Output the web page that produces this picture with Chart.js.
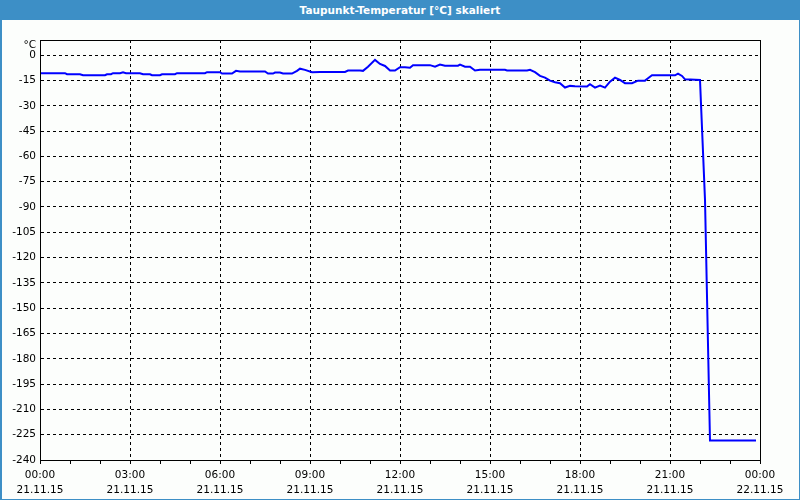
<!DOCTYPE html>
<html>
<head>
<meta charset="utf-8">
<script src="https://cdn.jsdelivr.net/npm/chart.js@4/dist/chart.umd.min.js"></script>
<style>
    body { margin: 0; }
    #frame {
        position: relative;
        width: 800px;
        height: 500px;
        background: #fcfefc;
        overflow: hidden;
    }
    #titleBar {
        position: absolute;
        left: 0; top: 0;
        width: 800px; height: 20px;
        background: #3d8fc6;
        color: #fff;
        font: bold 10.5px "DejaVu Sans", sans-serif;
        line-height: 20px;
        text-align: center;
    }
    /* blue window border left / right / bottom */
    #borderL { position: absolute; left: 0; top: 0; width: 2px; height: 500px; background: #3d8fc6; }
    #borderR { position: absolute; right: 0; top: 0; width: 1px; height: 500px; background: #3d8fc6; }
    #borderB { position: absolute; left: 0; bottom: 0; width: 800px; height: 1px; background: #3d8fc6; }
    #chartBox { position: absolute; left: 0; top: 0; width: 800px; height: 500px; }
</style>
</head>
<body>
<div id="frame">
    <div id="titleBar">Taupunkt-Temperatur [°C] skaliert</div>
    <div id="borderL"></div>
    <div id="borderR"></div>
    <div id="borderB"></div>
    <div id="chartBox"><canvas id="Chart"></canvas></div>
</div>

<script>
// time of day in hours (00:00 21.11.15 = 0)
const hours = [
    0.000, 0.833, 0.900, 1.333, 1.433, 2.167, 2.233, 2.367, 2.433, 2.667,
    2.767, 2.867, 3.333, 3.433, 3.667, 3.733, 4.000, 4.067, 4.500, 4.567,
    5.500, 5.567, 6.000, 6.067, 6.400, 6.533, 6.667, 7.500, 7.600, 7.767,
    7.833, 8.000, 8.100, 8.400, 8.567, 8.667, 8.833, 9.067, 9.333, 10.167,
    10.267, 10.667, 10.767, 10.933, 11.167, 11.333, 11.500, 11.667, 11.833, 12.000,
    12.167, 12.333, 12.433, 13.000, 13.167, 13.333, 13.500, 13.933, 14.000, 14.167,
    14.333, 14.500, 14.667, 15.500, 15.567, 16.233, 16.333, 16.500, 16.667, 16.833,
    17.000, 17.167, 17.333, 17.500, 17.667, 17.833, 18.233, 18.333, 18.500, 18.667,
    18.833, 19.000, 19.167, 19.333, 19.500, 19.733, 19.933, 20.167, 20.267, 20.400,
    21.167, 21.267, 21.400, 21.500, 22.000, 22.033, 22.167, 22.333, 23.867
];

// dew point in °C
const dewPoint = [
    -10.7, -10.7, -11.3, -11.3, -11.9, -11.9, -11.3, -11.3, -10.7, -10.7,
    -10.1, -10.7, -10.7, -11.3, -11.3, -11.9, -11.9, -11.3, -11.3, -10.7,
    -10.7, -10.1, -10.1, -10.9, -10.9, -9.3, -9.7, -9.7, -10.9, -10.9,
    -10.3, -10.3, -10.9, -10.9, -9.3, -8.0, -8.7, -10.1, -9.9, -9.9,
    -9.1, -9.1, -9.3, -6.8, -2.8, -5.2, -6.4, -9.1, -9.1, -7.1,
    -7.1, -7.4, -5.9, -5.9, -6.8, -5.6, -6.2, -6.2, -5.6, -6.8,
    -6.8, -9.1, -8.7, -8.7, -9.1, -9.1, -8.7, -10.1, -12.3, -13.3,
    -15.1, -16.0, -16.6, -19.2, -18.2, -18.4, -18.6, -17.2, -19.2, -18.0,
    -19.2, -15.7, -13.3, -14.7, -16.6, -16.6, -15.1, -15.1, -13.7, -11.9,
    -11.9, -10.9, -12.3, -14.3, -14.7, -14.7, -85.9, -228.5, -228.5
];

// axis ticks
const yTicks = [0, -15, -30, -45, -60, -75, -90, -105, -120, -135, -150, -165, -180, -195, -210, -225, -240];
const xTimeLabels = ['00:00', '03:00', '06:00', '09:00', '12:00', '15:00', '18:00', '21:00', '00:00'];
const xDateLabels = ['21.11.15', '21.11.15', '21.11.15', '21.11.15', '21.11.15', '21.11.15', '21.11.15', '21.11.15', '22.11.15'];

const tickFont = { family: '"DejaVu Sans", sans-serif', size: 10.5, lineHeight: 15 / 10.5 };

// black frame round the plot + the unit label
const framePlugin = {
    id: 'frame',
    afterDraw(chart) {
        const a = chart.chartArea;
        const ctx = chart.ctx;
        ctx.save();
        ctx.strokeStyle = '#000';
        ctx.lineWidth = 1;
        ctx.strokeRect(Math.round(a.left) + 0.5, Math.round(a.top) + 0.5,
            Math.round(a.right - a.left), Math.round(a.bottom - a.top));
        ctx.fillStyle = '#000';
        ctx.font = '10.5px "DejaVu Sans", sans-serif';
        ctx.textAlign = 'right';
        ctx.textBaseline = 'middle';
        ctx.fillText('°C', a.left - 4, a.top + 5);
        ctx.restore();
    }
};

function renderChart() {
    const points = hours.map((h, i) => ({ x: h, y: dewPoint[i] }));

    const ctx = document.getElementById('Chart').getContext('2d');
    new Chart(ctx, {
        type: 'line',
        data: {
            datasets: [{
                label: 'Taupunkt',
                data: points,
                borderColor: '#0000ff',
                borderWidth: 2,
                pointRadius: 0,
                tension: 0,
                fill: false
            }]
        },
        options: {
            responsive: true,
            maintainAspectRatio: false,
            animation: false,
            layout: { padding: { top: 40, right: 40, left: 0, bottom: 0 } },
            plugins: {
                legend: { display: false },
                tooltip: { enabled: false }
            },
            scales: {
                x: {
                    type: 'linear',
                    min: 0,
                    max: 24,
                    afterBuildTicks: scale => {
                        const t = [];
                        for (let h = 0; h <= 24; h++) t.push({ value: h });
                        scale.ticks = t;
                    },
                    afterFit: scale => { scale.height = 40; },
                    grid: {
                        color: c => (c.tick && c.tick.value % 3 === 0 && c.tick.value > 0 && c.tick.value < 24) ? '#000' : 'rgba(0,0,0,0)',
                        tickColor: '#000',
                        tickLength: 4,
                        lineWidth: 1
                    },
                    border: { display: true, color: '#000', width: 1, dash: [3, 3] },
                    ticks: {
                        autoSkip: false,
                        maxRotation: 0,
                        padding: 4,
                        color: '#000',
                        font: tickFont,
                        callback: value => value % 3 === 0 ? [xTimeLabels[value / 3], xDateLabels[value / 3]] : ''
                    }
                },
                y: {
                    min: -240,
                    max: 9,
                    afterBuildTicks: scale => { scale.ticks = yTicks.map(v => ({ value: v })); },
                    afterFit: scale => { scale.width = 40; },
                    grid: {
                        color: '#000',
                        lineWidth: 1,
                        drawTicks: false
                    },
                    border: { display: true, color: '#000', width: 1, dash: [3, 3] },
                    ticks: {
                        padding: 4,
                        color: '#000',
                        font: tickFont
                    }
                }
            }
        },
        plugins: [framePlugin]
    });
}

renderChart();
</script>
</body>
</html>
